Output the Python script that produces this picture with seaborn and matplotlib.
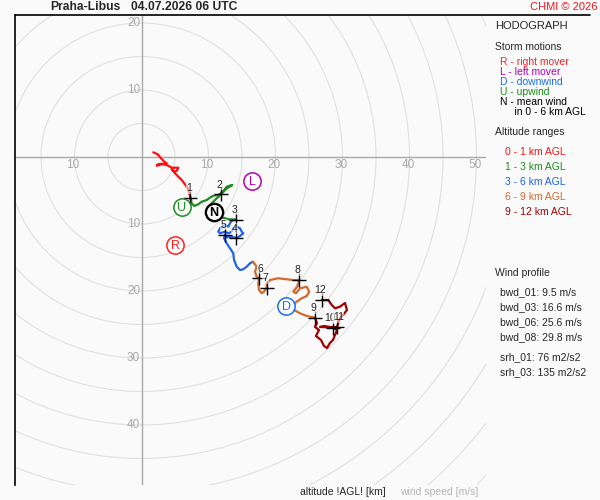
import numpy as np
import pandas as pd
import matplotlib
matplotlib.use("Agg")
import matplotlib.pyplot as plt
import seaborn as sns
from matplotlib.patches import Circle
from matplotlib.lines import Line2D

# ---------------- data (u, v in m/s) ----------------
u_0_1 = [1.76, 2.42, 2.91, 3.40, 3.76, 3.01, 2.27, 2.42, 3.01, 4.00, 4.51, 5.49, 5.25,
         4.90, 4.51, 5.00, 5.49, 6.00, 6.49, 6.90, 7.13, 7.31]
v_0_1 = [0.70, 0.40, -0.19, -0.70, -0.94, -1.09, -1.30, -1.09, -1.00, -1.30, -1.60, -1.60, -2.09,
         -2.19, -1.79, -2.43, -2.94, -3.43, -4.07, -4.67, -5.42, -6.12]

u_1_3 = [7.31, 7.49, 7.88, 8.48, 8.99, 9.73, 10.22, 10.72, 11.46, 12.16, 12.72, 13.55, 12.61,
         11.87, 11.12, 10.37, 9.85, 10.52, 11.46, 12.01, 12.96, 14.03]
v_1_3 = [-6.12, -6.91, -7.31, -7.06, -6.67, -6.42, -6.07, -5.78, -5.67, -5.18, -4.43, -4.18, -4.78,
         -5.57, -6.27, -7.01, -7.91, -8.51, -8.58, -9.00, -9.30, -9.33]

u_3_6 = [14.03, 13.46, 13.21, 12.96, 12.46, 11.72, 11.46, 11.72, 12.46, 12.96, 13.46, 13.70,
         14.21, 14.70, 14.96, 15.19, 14.70, 14.21, 13.46, 12.72, 12.46, 12.31, 12.72, 13.21,
         13.70, 13.81, 14.21, 14.70, 15.19, 15.70, 16.19, 16.64]
v_3_6 = [-9.33, -9.51, -9.90, -10.40, -10.15, -10.64, -11.15, -11.39, -11.15, -11.39, -11.15, -10.64,
         -10.40, -10.64, -11.15, -11.39, -11.79, -12.09, -11.90, -11.99, -11.57, -12.09, -12.88, -13.63,
         -14.37, -15.37, -16.37, -16.87, -16.76, -16.37, -15.87, -15.63]

u_6_9 = [16.64, 17.19, 16.94, 17.19, 17.54, 17.43, 17.54, 17.94, 18.28, 18.69, 18.69, 19.18,
         20.42, 21.67, 22.66, 23.55, 23.25, 22.66, 23.06, 23.66, 24.66, 25.04, 24.66, 23.91,
         23.16, 22.57, 22.76, 23.66, 24.66, 25.90]
v_6_9 = [-15.63, -16.37, -17.12, -17.87, -18.10, -18.85, -19.85, -20.34, -20.10, -19.51, -18.85, -18.36,
         -18.10, -18.25, -18.36, -18.36, -19.36, -20.10, -20.34, -19.60, -19.36, -20.10, -20.75, -21.09,
         -21.60, -22.09, -22.84, -23.33, -23.73, -23.99]

u_9_12 = [25.90, 26.19, 25.90, 26.49, 26.04, 26.79, 27.24, 27.69, 28.13, 28.58, 28.88, 29.18,
          28.58, 27.24, 26.64, 27.50, 29.18, 29.63, 30.07, 30.67, 30.37, 29.63, 28.88, 28.39,
          27.88, 26.90]
v_9_12 = [-23.99, -24.78, -25.37, -25.82, -26.72, -27.31, -28.21, -28.51, -27.76, -27.31, -26.57, -25.82,
          -25.45, -25.22, -25.37, -25.40, -25.37, -24.03, -23.58, -22.84, -21.79, -22.34, -22.58, -22.09,
          -21.34, -21.34]

layer_names = ["0 - 1 km AGL", "1 - 3 km AGL", "3 - 6 km AGL", "6 - 9 km AGL", "9 - 12 km AGL"]
layer_colors = ["#FF1010", "#1E8C1E", "#1E64E6", "#D2692D", "#A00000"]

heights = [1, 2, 3, 4, 5, 6, 7, 8, 9, 10, 11, 12]
mark_u = [7.31, 11.87, 14.03, 14.10, 12.46, 17.54, 18.69, 23.55, 25.90, 28.58, 29.18, 26.90]
mark_v = [-6.12, -5.57, -9.33, -12.16, -11.57, -18.10, -19.51, -18.36, -23.99, -25.52, -25.37, -21.34]

storm_letters = ["R", "L", "D", "U", "N"]
storm_u = [5.00, 16.49, 21.57, 6.04, 10.75]
storm_v = [-13.13, -3.58, -22.24, -7.46, -8.21]
storm_colors = ["#FF2020", "#B000B0", "#1E6EF0", "#1E8C1E", "#000000"]

ring_radii = list(range(5, 80, 5))
x_tick_vals = [-10, 10, 20, 30, 40, 50]
y_tick_vals = [20, 10, -10, -20, -30, -40]

storm_legend = ["R - right mover", "L - left mover", "D - downwind", "U - upwind",
                "N - mean wind", "     in 0 - 6 km AGL"]
storm_legend_colors = ["#FF2020", "#B000B0", "#1E6EF0", "#1E8C1E", "#000000", "#000000"]

wind_profile = ["bwd_01: 9.5 m/s", "bwd_03: 16.6 m/s", "bwd_06: 25.6 m/s", "bwd_08: 29.8 m/s",
                "srh_01: 76 m2/s2", "srh_03: 135 m2/s2"]

# ---------------- figure ----------------
sns.set_theme(style="white")
plt.rcParams['font.family'] = ['Liberation Sans', 'DejaVu Sans']
BG = "#FAFAFA"

fig = plt.figure(figsize=(6, 5), dpi=100, facecolor=BG)
def fx(px): return px / 600.0
def fy(py): return 1.0 - py / 500.0

ox, oy, sc = 141.5, 157.0, 6.7
left_px, right_px, top_px, bot_px = 15, 486, 15, 485
ax = fig.add_axes([fx(left_px), fy(bot_px), (right_px - left_px) / 600.0, (bot_px - top_px) / 500.0])
ax.set_facecolor(BG)
ax.set_xlim((left_px - ox) / sc, (right_px - ox) / sc)
ax.set_ylim(-(bot_px - oy) / sc, -(top_px - oy) / sc)
ax.set_xticks([]); ax.set_yticks([])
for s in ["top", "right", "bottom"]:
    ax.spines[s].set_visible(False)
ax.spines["left"].set_color("black")
ax.spines["left"].set_linewidth(1.2)

# rings
for r in ring_radii:
    ax.add_patch(Circle((0, 0), r, fill=False, ec="#E0E0E0", lw=0.8, zorder=1))
ax.axhline(0, color="#A8A8A8", lw=1.0, zorder=2)
ax.axvline(0, color="#A8A8A8", lw=1.0, zorder=2)

for xv in x_tick_vals:
    ax.annotate(str(abs(xv)), (xv, 0), xytext=(-1, -5.5), textcoords="offset points",
                ha="center", va="center", fontsize=8.5, color="#A8A8A8", zorder=2)
for yv in y_tick_vals:
    ax.annotate(str(abs(yv)), (0, yv), xytext=(-1, 0), textcoords="offset points",
                ha="right", va="center", fontsize=8.5, color="#A8A8A8", zorder=2)

# hodograph
segs_u = [u_0_1, u_1_3, u_3_6, u_6_9, u_9_12]
segs_v = [v_0_1, v_1_3, v_3_6, v_6_9, v_9_12]
frames = []
for name, us, vs in zip(layer_names, segs_u, segs_v):
    frames.append(pd.DataFrame({"u": us, "v": vs, "layer": name, "idx": range(len(us))}))
df = pd.concat(frames, ignore_index=True)
sns.lineplot(data=df, x="u", y="v", hue="layer", palette=dict(zip(layer_names, layer_colors)),
             sort=False, estimator=None, lw=1.6, legend=False, ax=ax, zorder=3)
ax.set_xlabel(""); ax.set_ylabel("")

# height marks
sns.scatterplot(x=mark_u, y=mark_v, marker="+", s=90, color="black", linewidth=1.0, ax=ax, zorder=5)
label_dx = [-1, -1, -1, -1, -1, 1, -1, -1, -1, -2, 1, -1]
for h, mu, mv, dx in zip(heights, mark_u, mark_v, label_dx):
    ax.annotate(str(h), (mu, mv), xytext=(dx, 7), textcoords="offset points", ha="center",
                va="center", fontsize=7.5, color="#202020", zorder=6,
                bbox=dict(boxstyle="square,pad=0.05", fc="white", ec="none", alpha=0.55))

# storm motions
for L, su, sv, c in zip(storm_letters, storm_u, storm_v, storm_colors):
    ax.scatter([su], [sv], s=155, facecolors="white", edgecolors=c,
               linewidths=1.7 if L == "N" else 1.1, zorder=7)
    ax.text(su, sv - 0.1, L, ha="center", va="center", fontsize=9, color=c, zorder=8,
            fontweight="bold" if L == "N" else "normal")

# borders
fig.add_artist(Line2D([fx(15), fx(590)], [fy(15), fy(15)], color="black", lw=1.2))

# header texts
fig.text(fx(50), fy(7.5), "Praha-Libus", fontsize=8.7, fontweight="bold", va="center", ha="left")
fig.text(fx(131), fy(7.5), "04.07.2026 06 UTC", fontsize=8.7, fontweight="bold", va="center", ha="left")
fig.text(fx(598), fy(7.5), "CHMI © 2026", fontsize=8, color="#F01818", va="center", ha="right")

# legend panel
fig.text(fx(495), fy(26), "HODOGRAPH", fontsize=8, va="center", ha="left")
fig.text(fx(495), fy(46.7), "Storm motions", fontsize=7.5, va="center", ha="left")
for i, (t, c) in enumerate(zip(storm_legend, storm_legend_colors)):
    fig.text(fx(500), fy(61.7 + 10 * i), t, fontsize=7.5, color=c, va="center", ha="left")
fig.text(fx(495), fy(131.7), "Altitude ranges", fontsize=7.5, va="center", ha="left")
for i, (t, c) in enumerate(zip(layer_names, layer_colors)):
    fig.text(fx(505), fy(151.7 + 15 * i), t, fontsize=7.5, color=c, va="center", ha="left")
fig.text(fx(495), fy(272.5), "Wind profile", fontsize=7.5, va="center", ha="left")
wp_y = [292, 307, 322, 337, 357, 372]
for t, yy in zip(wind_profile, wp_y):
    fig.text(fx(500), fy(yy), t, fontsize=7.5, va="center", ha="left")

fig.text(fx(300), fy(492), "altitude !AGL! [km]", fontsize=7.5, va="center", ha="left")
fig.text(fx(400), fy(492), "wind speed [m/s]", fontsize=7.5, color="#B4B4B4", va="center", ha="left")

fig.savefig("out.png", dpi=100, facecolor=BG)
